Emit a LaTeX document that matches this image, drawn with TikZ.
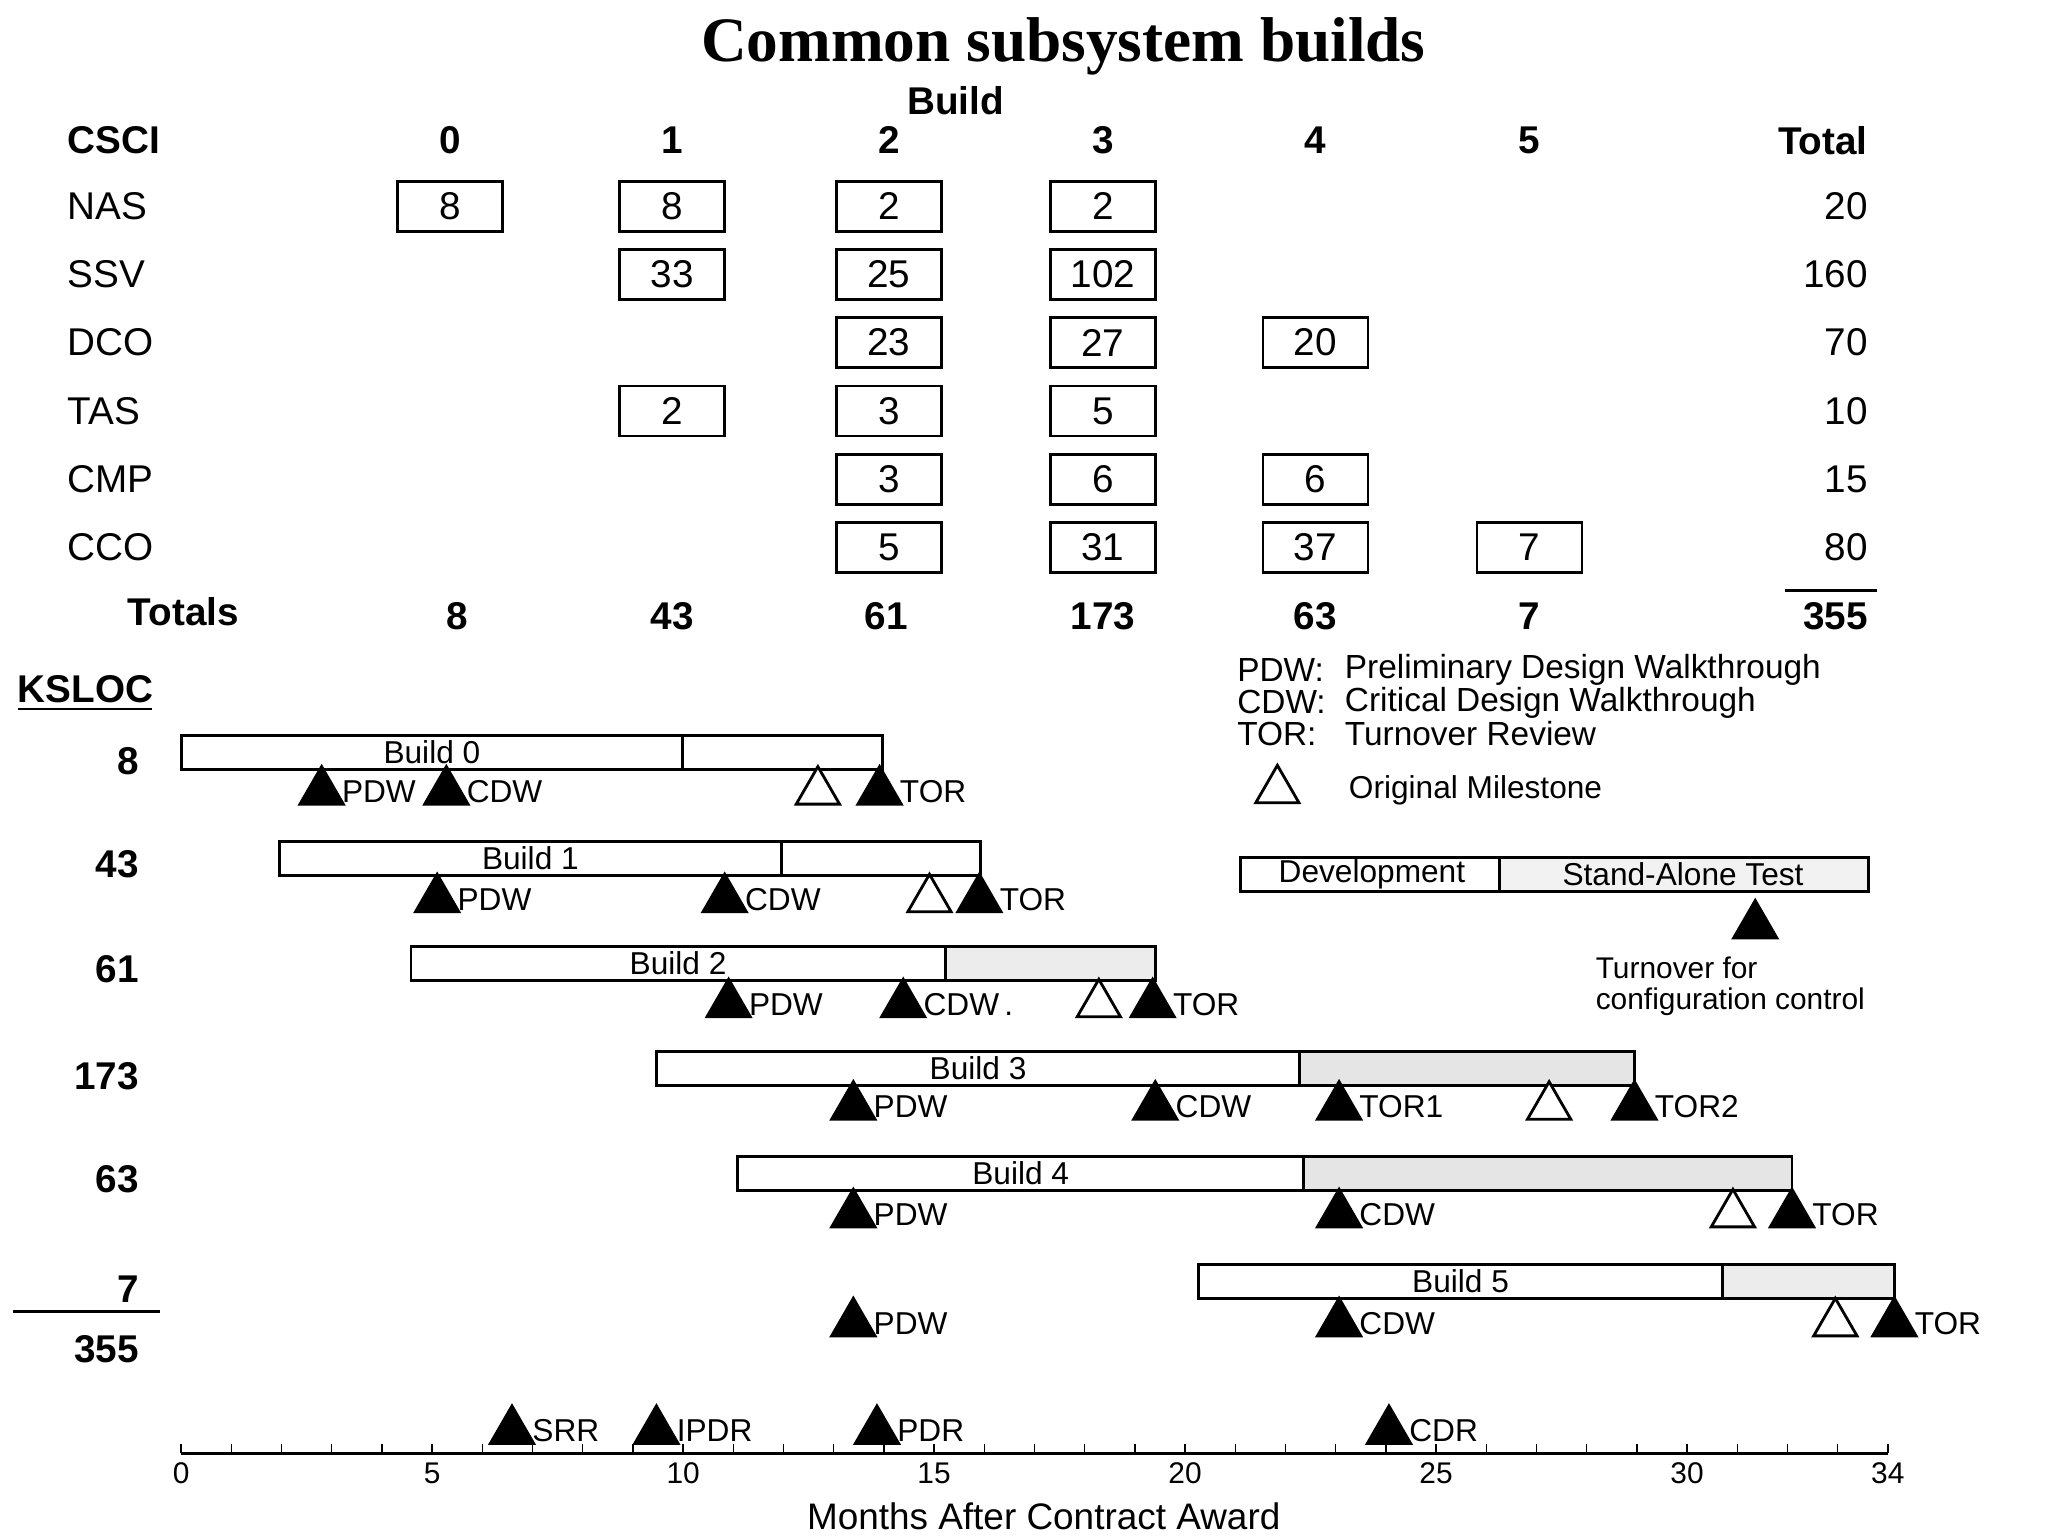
\documentclass[tikz,border=0pt]{standalone}
\usepackage{fontspec}
\setmainfont{Liberation Sans}
\newfontfamily\titlefont{Liberation Serif}
\usetikzlibrary{positioning,shapes.geometric}
\tikzset{
  ms/.style={regular polygon, regular polygon sides=3, draw, thick, fill=black, inner sep=0pt, minimum size=0.5cm},
  om/.style={ms, fill=white},
  mslbl/.style={anchor=west, inner sep=0pt, font=\fontsize{9}{10}\selectfont},
  cell/.style={draw, thick, minimum width=1.05cm, minimum height=0.5cm, inner sep=0pt, font=\fontsize{11}{12}\selectfont},
  hdr/.style={font=\fontsize{11}{12}\selectfont\bfseries},
  txt/.style={font=\fontsize{11}{12}\selectfont},
  bar/.style={draw, thick}
}
\begin{document}
\begin{tikzpicture}[x=0.013128cm, y=-0.013128cm]
  \useasboundingbox (0,0) rectangle (1560,1170);
  \node[font=\fontsize{18}{20}\selectfont\bfseries\titlefont] (title) at (810,35) {Common subsystem builds};
  \node[hdr] (build) at (728,77) {Build};
  \node[hdr, anchor=west] (csci) at (42,107) {CSCI};
  \foreach \b/\x in {0/343,1/512,2/677,3/840,4/1002,5/1165}
    \node[hdr] (col\b) at (\x,107) {\b};
  \node[hdr, anchor=east] (tot) at (1432,107) {Total};
  % rows
  \foreach \r/\y/\t in {NAS/157/20, SSV/209/160, DCO/261/70, TAS/313/10, CMP/365/15, CCO/417/80} {
    \node[txt, anchor=west] (lbl\r) at (42,\y) {\r};
    \node[txt, anchor=east] (tot\r) at (1432,\y) {\t};
  }
  \foreach \x/\y/\v in {343/157/8, 512/157/8, 677/157/2, 840/157/2,
      512/209/33, 677/209/25, 840/209/102,
      677/261/23, 840/261/27, 1002/261/20,
      512/313/2, 677/313/3, 840/313/5,
      677/365/3, 840/365/6, 1002/365/6,
      677/417/5, 840/417/31, 1002/417/37, 1165/417/7}
    \node[cell] at (\x,\y) {\v};
  \node[hdr, anchor=west] (totals) at (88,466) {Totals};
  \foreach \x/\v in {348/8, 512/43, 675/61, 840/173, 1002/63, 1165/7}
    \node[hdr] at (\x,469) {\v};
  \node[hdr, anchor=east] (grand) at (1432,469) {355};
  \draw[thick] (1360,450) -- (1430,450);
  % KSLOC column
  \node[hdr] (ksloc) at (65,525) {KSLOC};
  \draw[thick] (14,540) -- (116,540);
  \foreach \y/\v in {580/8, 658/43, 738/61, 820/173, 898/63, 982/7}
    \node[hdr, anchor=east] at (115,\y) {\v};
  \draw[thick] (10,999) -- (122,999);
  \node[hdr, anchor=east] (k355) at (115,1028) {355};
  % build bars
  \foreach \n/\y/\s/\d/\e/\f in {0/573/138/520/672/white, 1/654/213/595/747/white, 2/734/313/720/880/gray!15,
      3/814/500/990/1245/gray!20, 4/894/562/993/1365/gray!20, 5/976/913/1312/1443/gray!15} {
    \draw[bar, fill=\f] (\d,\y-13) rectangle (\e,\y+13);
    \draw[bar] (\s,\y-13) rectangle (\d,\y+13);
    \node[font=\fontsize{9}{10}\selectfont] (b\n) at ({(\s+\d)/2},\y) {Build \n};
  }
  % milestones
  \foreach \x/\y/\l in {245/603/PDW, 340/603/CDW, 670/603/TOR,
      333/685/PDW, 552/685/CDW, 746/685/TOR,
      555/765/PDW, 688/765/CDW\,., 878/765/TOR,
      650/843/PDW, 880/843/CDW, 1020/843/TOR1, 1245/843/TOR2,
      650/925/PDW, 1020/925/CDW, 1365/925/TOR,
      650/1008/PDW, 1020/1008/CDW, 1443/1008/TOR,
      390/1090/SRR, 500/1090/IPDR, 668/1090/PDR, 1058/1090/CDR}
    \node[ms] (m) at (\x,\y) {} node[mslbl] at (\x+15,\y) {\l};
  \foreach \x/\y in {623/603, 708/685, 837/765, 1180/843, 1320/925, 1398/1008}
    \node[om] at (\x,\y) {};
  % legend
  \foreach \y/\a/\b in {510/PDW:/Preliminary Design Walkthrough, 535/CDW:/Critical Design Walkthrough, 559/TOR:/Turnover Review}{
    \node[anchor=west, font=\fontsize{9.5}{10}\selectfont] at (933,\y) {\a};
    \node[anchor=west, font=\fontsize{9.5}{10}\selectfont] at (1015,\y) {\b};
  }
  \node[om] (legom) at (973,602) {};
  \node[anchor=west, font=\fontsize{9}{10}\selectfont] (legoml) at (1018,602) {Original Milestone};
  \draw[bar, fill=gray!10] (1142,653) rectangle (1423,679);
  \draw[bar] (945,653) rectangle (1142,679);
  \node[font=\fontsize{9}{10}\selectfont] (dev) at (1045,666) {Development};
  \node[font=\fontsize{9}{10}\selectfont] (sat) at (1282,666) {Stand-Alone Test};
  \node[ms] (turn) at (1337,705) {};
  \node[anchor=north west, align=left, inner sep=0pt, font=\fontsize{8.5}{9}\selectfont] (turnl) at (1215,728) {Turnover for\\configuration control};
  % axis
  \draw[thick] (138,1107) -- (1438,1107);
  \foreach \m in {0,...,34}
    \draw (138+\m*38.235,1107) -- (138+\m*38.235,1100);
  \foreach \m in {0,5,...,30,34}
    \node[font=\fontsize{8.5}{9}\selectfont] at (138+\m*38.235,1122) {\m};
  \node[font=\fontsize{10.5}{11}\selectfont] (xlabel) at (795,1155) {Months After Contract Award};
\end{tikzpicture}
\end{document}
